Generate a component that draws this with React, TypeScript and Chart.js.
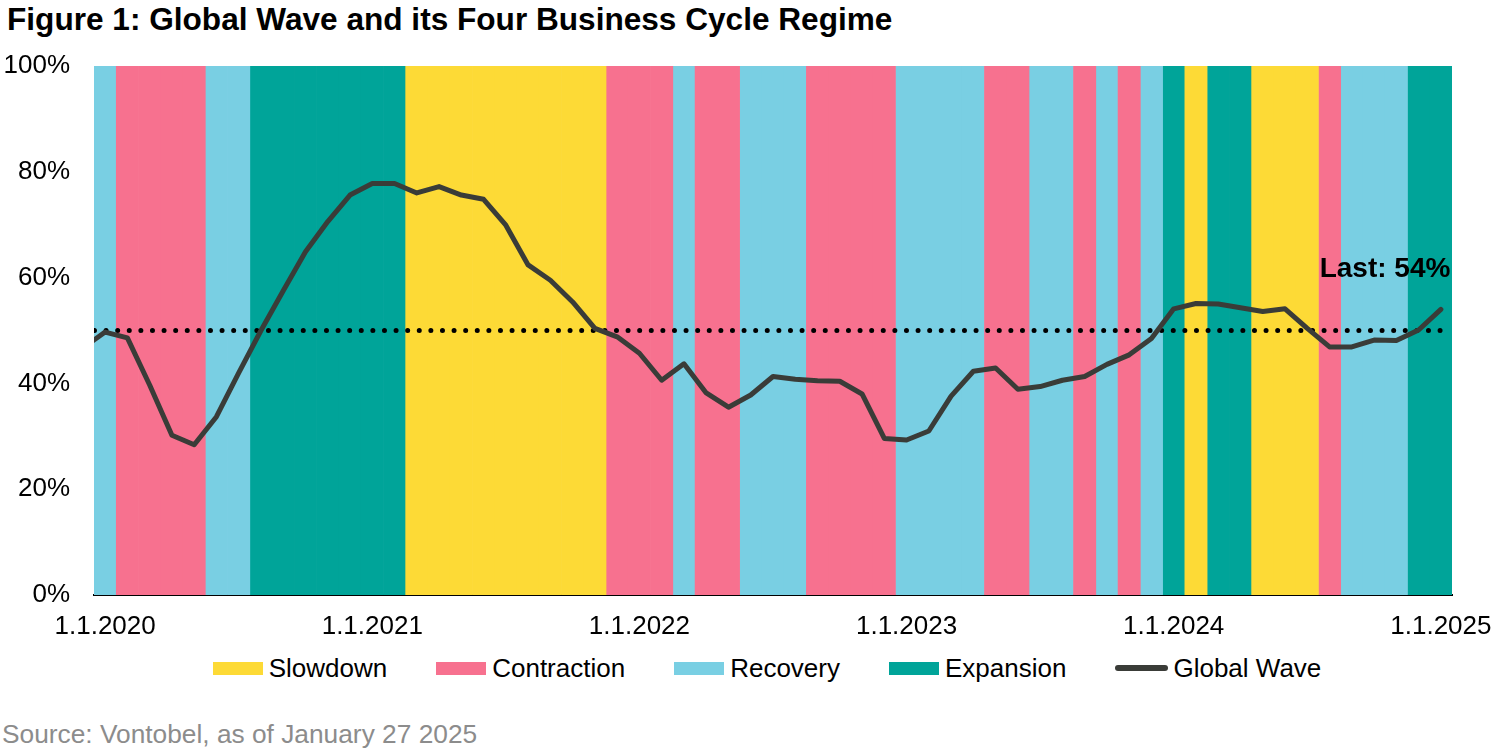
import React, { useEffect, useRef } from "react";
import { Chart, registerables } from "chart.js";

Chart.register(...registerables);

// ---- data ----
const regimeCodes = ["S", "C", "R", "E"];
const regimeNames = ["Slowdown", "Contraction", "Recovery", "Expansion"];
const regimeColors = ["#FDDA36", "#F7718F", "#79CFE3", "#00A499"];

// one regime per month, Jan 2020 .. Jan 2025
const regimeByMonth = [
  "R", "C", "C", "C", "C", "R", "R", "E", "E", "E", "E", "E", // 2020
  "E", "E", "S", "S", "S", "S", "S", "S", "S", "S", "S", "C", // 2021
  "C", "C", "R", "C", "C", "R", "R", "R", "C", "C", "C", "C", // 2022
  "R", "R", "R", "R", "C", "C", "R", "R", "C", "R", "C", "R", // 2023
  "E", "S", "E", "E", "S", "S", "S", "C", "R", "R", "R", "E", // 2024
  "E", // Jan 2025
];

// Global Wave, monthly, starting Dec 2019 (month index -1)
const waveFirstMonth = -1;
const globalWave = [
  46.7, // Dec 2019
  49.7, 48.6, 39.7, 30.2, 28.4, 33.7, 42.0, 50.0, 57.5, 64.9, 70.6, 75.6, // 2020
  77.8, 77.8, 76.0, 77.2, 75.6, 74.8, 69.9, 62.4, 59.5, 55.4, 50.4, 48.8, // 2021
  45.7, 40.6, 43.7, 38.2, 35.5, 37.8, 41.3, 40.8, 40.5, 40.4, 38.0, 29.6, // 2022
  29.3, 31.0, 37.6, 42.3, 42.9, 38.9, 39.4, 40.6, 41.3, 43.6, 45.4, 48.5, // 2023
  54.1, 55.1, 55.0, 54.3, 53.6, 54.1, 50.4, 46.9, 46.9, 48.2, 48.1, 50.1, // 2024
  54.0, // Jan 2025
];

const thresholdLevel = 50;
const tickMonths = [0, 12, 24, 36, 48, 60];
const tickLabels = ["1.1.2020", "1.1.2021", "1.1.2022", "1.1.2023", "1.1.2024", "1.1.2025"];
const yTicks = [0, 20, 40, 60, 80, 100];

const FONT = "'Liberation Sans', Arial, Helvetica, sans-serif";
const LINE_COLOR = "#3A3C38";

const lastLabelPlugin = {
  id: "lastLabel",
  afterDatasetsDraw(chart: any) {
    const meta = chart.getDatasetMeta(0);
    const pts = meta.data;
    if (!pts || !pts.length) return;
    const last = pts[pts.length - 1];
    const v = globalWave[globalWave.length - 1];
    const ctx = chart.ctx;
    ctx.save();
    ctx.font = `bold 28px ${FONT}`;
    ctx.fillStyle = "#000";
    ctx.textAlign = "right";
    ctx.textBaseline = "alphabetic";
    ctx.fillText(`Last: ${Math.round(v)}%`, last.x + 9.5, last.y - 32);
    ctx.restore();
  },
};

export default function App() {
  const canvasRef = useRef<HTMLCanvasElement | null>(null);

  useEffect(() => {
    if (!canvasRef.current) return;

    const regimeDatasets = regimeCodes.map((code, r) => ({
      type: "bar" as const,
      label: regimeNames[r],
      data: regimeByMonth
        .map((c, i) => (c === code ? { x: i + 0.5, y: 100 } : null))
        .filter((p) => p !== null),
      backgroundColor: regimeColors[r],
      borderWidth: 0,
      grouped: false,
      barPercentage: 1,
      categoryPercentage: 1,
      order: 3,
    }));

    const wavePoints = globalWave.map((v, k) => ({ x: waveFirstMonth + k + 0.5, y: v }));
    const thresholdPoints = globalWave.map((_, k) => ({ x: waveFirstMonth + k + 0.5, y: thresholdLevel }));

    const chart = new Chart(canvasRef.current, {
      type: "bar",
      data: {
        datasets: [
          {
            type: "line" as const,
            label: "Global Wave",
            data: wavePoints,
            borderColor: LINE_COLOR,
            backgroundColor: LINE_COLOR,
            borderWidth: 5,
            pointRadius: 0,
            tension: 0,
            borderJoinStyle: "round",
            borderCapStyle: "round",
            clip: 0,
            order: 0,
          } as any,
          {
            type: "line" as const,
            label: "50%",
            data: thresholdPoints,
            borderColor: "#000",
            borderWidth: 5,
            borderDash: [0, 11.6],
            borderCapStyle: "round",
            pointRadius: 0,
            clip: 0,
            order: 1,
          } as any,
          ...regimeDatasets,
        ],
      },
      options: {
        animation: false,
        responsive: false,
        maintainAspectRatio: false,
        layout: { padding: { top: 66, right: 48, left: 0, bottom: 0 } },
        plugins: {
          legend: { display: false },
          tooltip: { enabled: false },
          title: { display: false },
        },
        scales: {
          x: {
            type: "linear",
            min: 0,
            max: regimeByMonth.length,
            offset: false,
            grid: { display: false, drawTicks: false },
            border: { display: true, color: "#000", width: 2 },
            afterBuildTicks: (scale: any) => {
              scale.ticks = tickMonths.map((m) => ({ value: m + 0.5 }));
            },
            afterFit: (scale: any) => {
              scale.height = 55;
              scale.paddingLeft = 0;
              scale.paddingRight = 0;
            },
            ticks: {
              autoSkip: false,
              maxRotation: 0,
              minRotation: 0,
              padding: 16,
              color: "#000",
              font: { family: FONT, size: 26 },
              callback: (_v: any, i: number) => tickLabels[i],
            },
          },
          y: {
            type: "linear",
            min: 0,
            max: 100,
            grid: { display: false, drawTicks: false },
            border: { display: false },
            afterBuildTicks: (scale: any) => {
              scale.ticks = yTicks.map((v) => ({ value: v }));
            },
            afterFit: (scale: any) => {
              scale.width = 94;
              scale.paddingTop = 0;
              scale.paddingBottom = 0;
            },
            ticks: {
              padding: 24,
              color: "#000",
              font: { family: FONT, size: 26 },
              callback: (v: any) => `${v}%`,
            },
          },
        },
      } as any,
      plugins: [lastLabelPlugin],
    });

    return () => chart.destroy();
  }, []);

  const legendItems = [
    ...regimeNames.map((n, i) => ({ name: n, color: regimeColors[i], line: false })),
    { name: "Global Wave", color: LINE_COLOR, line: true },
  ];

  return (
    <div
      style={{
        position: "absolute",
        left: 0,
        top: 0,
        width: 1500,
        height: 750,
        background: "#fff",
        fontFamily: FONT,
        overflow: "hidden",
      }}
    >
      <div
        style={{
          position: "absolute",
          left: 7,
          top: 4,
          fontSize: 31.6,
          lineHeight: "31px",
          fontWeight: "bold",
          color: "#000",
          whiteSpace: "nowrap",
        }}
      >
        Figure 1: Global Wave and its Four Business Cycle Regime
      </div>
      <div style={{ position: "absolute", left: 0, top: 0, width: 1500, height: 650 }}>
        <canvas ref={canvasRef} width={1500} height={650} />
      </div>
      <div
        style={{
          position: "absolute",
          left: 88,
          width: 1358,
          top: 653,
          height: 30,
          display: "flex",
          justifyContent: "center",
          alignItems: "center",
          gap: 49,
          fontSize: 26,
          color: "#000",
        }}
      >
        {legendItems.map((it) => (
          <div key={it.name} style={{ display: "flex", alignItems: "center", whiteSpace: "nowrap" }}>
            {it.line ? (
              <div style={{ width: 53, height: 6, borderRadius: 3, background: it.color, marginRight: 5 }} />
            ) : (
              <div style={{ width: 50, height: 13, background: it.color, marginRight: 6 }} />
            )}
            <span style={{ lineHeight: "30px" }}>{it.name}</span>
          </div>
        ))}
      </div>
      <div
        style={{
          position: "absolute",
          left: 2,
          top: 721,
          fontSize: 26.3,
          lineHeight: "26px",
          color: "#8C8C8C",
          whiteSpace: "nowrap",
        }}
      >
        Source: Vontobel, as of January 27 2025
      </div>
    </div>
  );
}
